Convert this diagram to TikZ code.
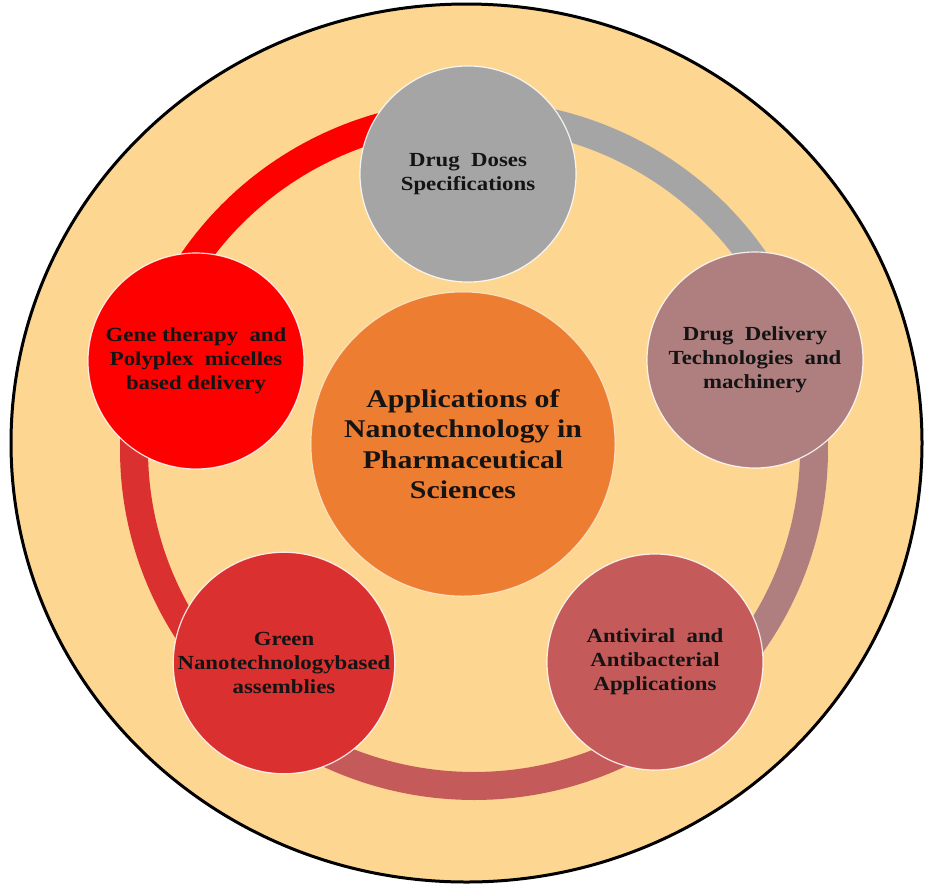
\documentclass[tikz,border=0pt]{standalone}
\usepackage{fontspec}
\newfontfamily\lblfont[FakeStretch=1.14]{Liberation Serif}
\newfontfamily\ctrfont[FakeStretch=1.17]{Liberation Serif}
\definecolor{bgfill}{HTML}{FDD692}
\definecolor{cDoses}{HTML}{A5A5A5}
\definecolor{cDelivery}{HTML}{AF7F7F}
\definecolor{cAntiviral}{HTML}{C55A5A}
\definecolor{cGreen}{HTML}{DA3030}
\definecolor{cGene}{HTML}{FF0000}
\definecolor{cCenter}{HTML}{ED7D31}
\begin{document}
\begin{tikzpicture}[x=1pt,y=-1pt,
  bubble/.style={circle, minimum size=216pt, inner sep=0pt,
    draw=white, draw opacity=0.85, line width=1.2pt, align=center,
    text=black!92, font=\lblfont\bfseries\fontsize{20}{24}\selectfont},
  hub/.style={circle, minimum size=304pt, inner sep=0pt,
    draw=white, draw opacity=0.6, line width=1pt, align=center,
    text=black!92, font=\ctrfont\bfseries\fontsize{25.5}{30.5}\selectfont},
  ringseg/.style={line width=28pt, line cap=butt}]
\useasboundingbox (0,0) rectangle (925,892);
\fill[white] (0,0) rectangle (925,892);

% outer disc
\draw[line width=3pt, fill=bgfill] (466.5,443) ellipse [x radius=455.5, y radius=439];

% cycle ring, one segment per step, coloured like the step it leaves
\draw[ringseg, cDoses]     plot[domain=91.2:17.8,    samples=60] ({474+340*cos(\x)},{450-336*sin(\x)});
\draw[ringseg, cDelivery]  plot[domain=17.8:-49.5,   samples=60] ({474+340*cos(\x)},{450-336*sin(\x)});
\draw[ringseg, cAntiviral] plot[domain=-49.5:-131.7, samples=60] ({474+340*cos(\x)},{450-336*sin(\x)});
\draw[ringseg, cGreen]     plot[domain=-131.7:-197.8,samples=60] ({474+340*cos(\x)},{450-336*sin(\x)});
\draw[ringseg, cGene]      plot[domain=-197.8:-268.8,samples=60] ({474+340*cos(\x)},{450-336*sin(\x)});

% central topic
\node[hub, fill=cCenter] (center) at (463,444)
  {Applications of\\Nanotechnology in\\Pharmaceutical\\Sciences};

% steps of the cycle
\node[bubble, fill=cDoses] (doses) at (468,174)
  {Drug\ \ Doses\\Specifications};
\node[bubble, fill=cDelivery] (delivery) at (755,360)
  {Drug\ \ Delivery\\Technologies\ \ and\\machinery};
\node[bubble, fill=cAntiviral] (antiviral) at (655,662)
  {Antiviral\ \ and\\Antibacterial\\Applications};
\node[bubble, fill=cGreen] (green) at (284,663)
  {Green\\Nanotechnologybased\\assemblies};
\node[bubble, fill=cGene] (gene) at (196,361)
  {Gene therapy\ \ and\\Polyplex\ \ micelles\\based delivery};
\end{tikzpicture}
\end{document}
